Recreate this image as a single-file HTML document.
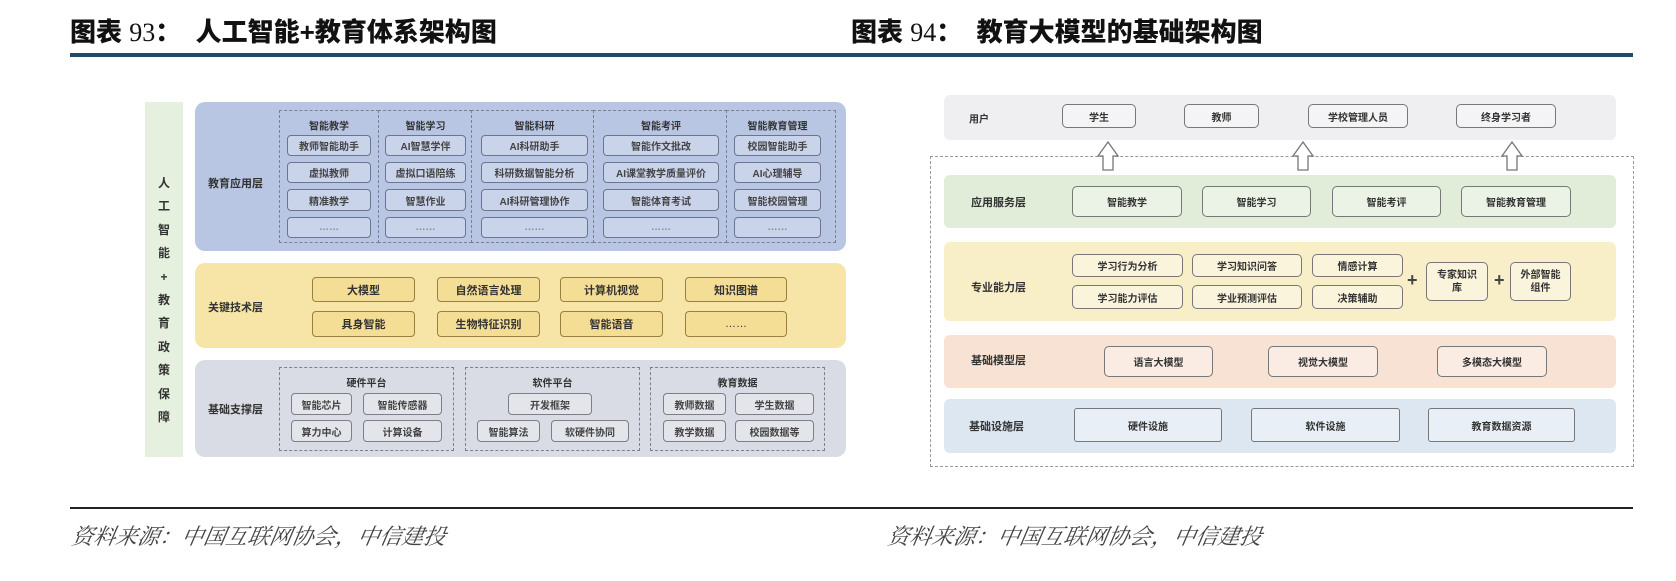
<!DOCTYPE html>
<html><head><meta charset="utf-8"><style>
*{margin:0;padding:0;box-sizing:border-box}
body{width:1676px;height:581px;background:#fff;position:relative;overflow:hidden;font-family:"Liberation Sans","Noto Sans CJK SC",sans-serif;color:#333}
.a{position:absolute}
.t{font-family:"Liberation Sans","Noto Sans CJK SC",sans-serif;font-weight:900;font-size:26px;color:#111;top:12px;white-space:nowrap}
.t span{font-family:"Liberation Serif",serif;font-weight:normal}
.src{font-family:"Liberation Serif","Noto Serif CJK SC",serif;font-style:italic;font-size:22px;color:#444;top:520px;white-space:nowrap;transform:skewX(-10deg)}
.b{position:absolute;display:flex;align-items:center;justify-content:center;font-size:10px;font-weight:bold;color:#444;white-space:nowrap;border-radius:4px}
.ab{border:1.5px solid #6a7590;background:#c9d3ea}
.yb{border:1.5px solid #9a8040;background:#f4dd95;font-size:11px;color:#333}
.gb{border:1.5px solid #7a7f8a;background:#e3e5ea}
.lab{position:absolute;font-size:11px;font-weight:bold;color:#333;white-space:nowrap;transform:translateY(-50%)}
.hd{position:absolute;font-size:10px;font-weight:bold;color:#333;text-align:center;transform:translateY(-50%)}
.dash{position:absolute;border:1.5px dashed #7a8090}
.rb{position:absolute;display:flex;align-items:center;justify-content:center;font-size:10px;font-weight:bold;color:#333;white-space:nowrap;border-radius:5px;border:1.3px solid #777;background:rgba(255,255,255,.35)}
</style></head><body>
<div class="a t" style="left:70px">图表 <span>93</span>：&nbsp;&nbsp;人工智能+教育体系架构图</div>
<div class="a t" style="left:851px">图表 <span>94</span>：&nbsp;&nbsp;教育大模型的基础架构图</div>
<div class="a" style="left:70px;top:53px;width:1563px;height:4px;background:#1d4b6e"></div>
<div class="a" style="left:70px;top:507px;width:1563px;height:2px;background:#222"></div>
<div class="a src" style="left:72px">资料来源：中国互联网协会，中信建投</div>
<div class="a src" style="left:888px">资料来源：中国互联网协会，中信建投</div>

<!-- LEFT -->
<div class="a" style="left:145px;top:102px;width:38px;height:355px;background:#e6f0de"></div>
<div class="a" style="left:154px;top:172px;width:20px;font-size:12px;font-weight:bold;line-height:23.4px;text-align:center;color:#333">人<br>工<br>智<br>能<br>+<br>教<br>育<br>政<br>策<br>保<br>障</div>
<div class="a" style="left:195px;top:102px;width:651px;height:149px;background:#b8c6e3;border-radius:10px"></div>
<div class="lab" style="left:208px;top:183px">教育应用层</div>
<div class="dash" style="left:279px;top:110px;width:100px;height:133px"></div>
<div class="dash" style="left:378px;top:110px;width:94px;height:133px"></div>
<div class="dash" style="left:471px;top:110px;width:123px;height:133px"></div>
<div class="dash" style="left:593px;top:110px;width:134px;height:133px"></div>
<div class="dash" style="left:726px;top:110px;width:110px;height:133px"></div>
<div class="hd" style="left:287px;width:84px;top:125px">智能教学</div>
<div class="hd" style="left:385px;width:81px;top:125px">智能学习</div>
<div class="hd" style="left:481px;width:107px;top:125px">智能科研</div>
<div class="hd" style="left:603px;width:116px;top:125px">智能考评</div>
<div class="hd" style="left:734px;width:87px;top:125px">智能教育管理</div>
<div class="b ab" style="left:287px;top:135px;width:84px;height:21px">教师智能助手</div>
<div class="b ab" style="left:287px;top:162px;width:84px;height:21px">虚拟教师</div>
<div class="b ab" style="left:287px;top:189px;width:84px;height:22px">精准教学</div>
<div class="b ab" style="left:287px;top:217px;width:84px;height:21px;color:#889">……</div>
<div class="b ab" style="left:385px;top:135px;width:81px;height:21px">AI智慧学伴</div>
<div class="b ab" style="left:385px;top:162px;width:81px;height:21px">虚拟口语陪练</div>
<div class="b ab" style="left:385px;top:189px;width:81px;height:22px">智慧作业</div>
<div class="b ab" style="left:385px;top:217px;width:81px;height:21px;color:#889">……</div>
<div class="b ab" style="left:481px;top:135px;width:107px;height:21px">AI科研助手</div>
<div class="b ab" style="left:481px;top:162px;width:107px;height:21px">科研数据智能分析</div>
<div class="b ab" style="left:481px;top:189px;width:107px;height:22px">AI科研管理协作</div>
<div class="b ab" style="left:481px;top:217px;width:107px;height:21px;color:#889">……</div>
<div class="b ab" style="left:603px;top:135px;width:116px;height:21px">智能作文批改</div>
<div class="b ab" style="left:603px;top:162px;width:116px;height:21px">AI课堂教学质量评价</div>
<div class="b ab" style="left:603px;top:189px;width:116px;height:22px">智能体育考试</div>
<div class="b ab" style="left:603px;top:217px;width:116px;height:21px;color:#889">……</div>
<div class="b ab" style="left:734px;top:135px;width:87px;height:21px">校园智能助手</div>
<div class="b ab" style="left:734px;top:162px;width:87px;height:21px">AI心理辅导</div>
<div class="b ab" style="left:734px;top:189px;width:87px;height:22px">智能校园管理</div>
<div class="b ab" style="left:734px;top:217px;width:87px;height:21px;color:#889">……</div>

<div class="a" style="left:195px;top:263px;width:651px;height:85px;background:#f6e5a6;border-radius:10px"></div>
<div class="lab" style="left:208px;top:307px">关键技术层</div>
<div class="b yb" style="left:312px;top:277px;width:103px;height:25px">大模型</div>
<div class="b yb" style="left:437px;top:277px;width:103px;height:25px">自然语言处理</div>
<div class="b yb" style="left:560px;top:277px;width:103px;height:25px">计算机视觉</div>
<div class="b yb" style="left:685px;top:277px;width:102px;height:25px">知识图谱</div>
<div class="b yb" style="left:312px;top:311px;width:103px;height:26px">具身智能</div>
<div class="b yb" style="left:437px;top:311px;width:103px;height:26px">生物特征识别</div>
<div class="b yb" style="left:560px;top:311px;width:103px;height:26px">智能语音</div>
<div class="b yb" style="left:685px;top:311px;width:102px;height:26px;font-weight:normal">……</div>

<div class="a" style="left:195px;top:360px;width:651px;height:97px;background:#d9dce4;border-radius:10px"></div>
<div class="lab" style="left:208px;top:409px">基础支撑层</div>
<div class="dash" style="left:279px;top:367px;width:175px;height:84px"></div>
<div class="dash" style="left:465px;top:367px;width:175px;height:84px"></div>
<div class="dash" style="left:650px;top:367px;width:175px;height:84px"></div>
<div class="hd" style="left:279px;width:175px;top:382px">硬件平台</div>
<div class="hd" style="left:465px;width:175px;top:382px">软件平台</div>
<div class="hd" style="left:650px;width:175px;top:382px">教育数据</div>
<div class="b gb" style="left:291px;top:393px;width:61px;height:22px">智能芯片</div>
<div class="b gb" style="left:363px;top:393px;width:79px;height:22px">智能传感器</div>
<div class="b gb" style="left:291px;top:420px;width:61px;height:22px">算力中心</div>
<div class="b gb" style="left:363px;top:420px;width:79px;height:22px">计算设备</div>
<div class="b gb" style="left:508px;top:393px;width:84px;height:22px">开发框架</div>
<div class="b gb" style="left:477px;top:420px;width:63px;height:22px">智能算法</div>
<div class="b gb" style="left:551px;top:420px;width:78px;height:22px">软硬件协同</div>
<div class="b gb" style="left:663px;top:393px;width:63px;height:22px">教师数据</div>
<div class="b gb" style="left:735px;top:393px;width:79px;height:22px">学生数据</div>
<div class="b gb" style="left:663px;top:420px;width:63px;height:22px">教学数据</div>
<div class="b gb" style="left:735px;top:420px;width:79px;height:22px">校园数据等</div>

<!-- RIGHT -->
<div class="a" style="left:944px;top:95px;width:672px;height:45px;background:#efeff1;border-radius:6px"></div>
<div class="lab" style="left:969px;top:118px;font-size:10px">用户</div>
<div class="rb" style="left:1062px;top:104px;width:74px;height:24px">学生</div>
<div class="rb" style="left:1184px;top:104px;width:75px;height:24px">教师</div>
<div class="rb" style="left:1308px;top:104px;width:100px;height:24px">学校管理人员</div>
<div class="rb" style="left:1456px;top:104px;width:100px;height:24px">终身学习者</div>
<div class="a" style="left:930px;top:156px;width:704px;height:311px;border:1.3px dashed #999"></div>
<svg class="a" style="left:0;top:0" width="1676" height="581">
<g fill="#fff" stroke="#777" stroke-width="1.3">
<path d="M1103,170 V156 H1098 L1108,142 L1118,156 H1113 V170 Z"/>
<path d="M1298,170 V156 H1293 L1303,142 L1313,156 H1308 V170 Z"/>
<path d="M1507,170 V156 H1502 L1512,142 L1522,156 H1517 V170 Z"/>
</g></svg>
<div class="a" style="left:944px;top:175px;width:672px;height:53px;background:#e1ecd9;border-radius:6px"></div>
<div class="lab" style="left:971px;top:202px">应用服务层</div>
<div class="rb" style="left:1072px;top:186px;width:110px;height:31px">智能教学</div>
<div class="rb" style="left:1202px;top:186px;width:109px;height:31px">智能学习</div>
<div class="rb" style="left:1332px;top:186px;width:109px;height:31px">智能考评</div>
<div class="rb" style="left:1461px;top:186px;width:110px;height:31px">智能教育管理</div>

<div class="a" style="left:944px;top:242px;width:672px;height:79px;background:#f8efc9;border-radius:6px"></div>
<div class="lab" style="left:971px;top:287px">专业能力层</div>
<div class="rb" style="left:1072px;top:254px;width:111px;height:23px">学习行为分析</div>
<div class="rb" style="left:1192px;top:254px;width:110px;height:23px">学习知识问答</div>
<div class="rb" style="left:1312px;top:254px;width:91px;height:23px">情感计算</div>
<div class="rb" style="left:1072px;top:285px;width:111px;height:24px">学习能力评估</div>
<div class="rb" style="left:1192px;top:285px;width:110px;height:24px">学业预测评估</div>
<div class="rb" style="left:1312px;top:285px;width:91px;height:24px">决策辅助</div>
<div class="a" style="left:1407px;top:270px;font-size:18px;font-weight:bold;color:#444">+</div>
<div class="rb" style="left:1426px;top:262px;width:62px;height:39px;white-space:normal;text-align:center;line-height:13px;padding:0 8px">专家知识库</div>
<div class="a" style="left:1494px;top:270px;font-size:18px;font-weight:bold;color:#444">+</div>
<div class="rb" style="left:1510px;top:262px;width:61px;height:39px;white-space:normal;text-align:center;line-height:13px;padding:0 8px">外部智能组件</div>

<div class="a" style="left:944px;top:335px;width:672px;height:53px;background:#f7e2d3;border-radius:6px"></div>
<div class="lab" style="left:971px;top:360px">基础模型层</div>
<div class="rb" style="left:1104px;top:346px;width:109px;height:31px">语言大模型</div>
<div class="rb" style="left:1268px;top:346px;width:110px;height:31px">视觉大模型</div>
<div class="rb" style="left:1437px;top:346px;width:110px;height:31px">多模态大模型</div>

<div class="a" style="left:944px;top:399px;width:672px;height:54px;background:#dde7f2;border-radius:6px"></div>
<div class="lab" style="left:969px;top:426px">基础设施层</div>
<div class="rb" style="left:1074px;top:408px;width:148px;height:34px;border-radius:3px">硬件设施</div>
<div class="rb" style="left:1251px;top:408px;width:149px;height:34px;border-radius:3px">软件设施</div>
<div class="rb" style="left:1428px;top:408px;width:147px;height:34px;border-radius:3px">教育数据资源</div>
</body></html>
